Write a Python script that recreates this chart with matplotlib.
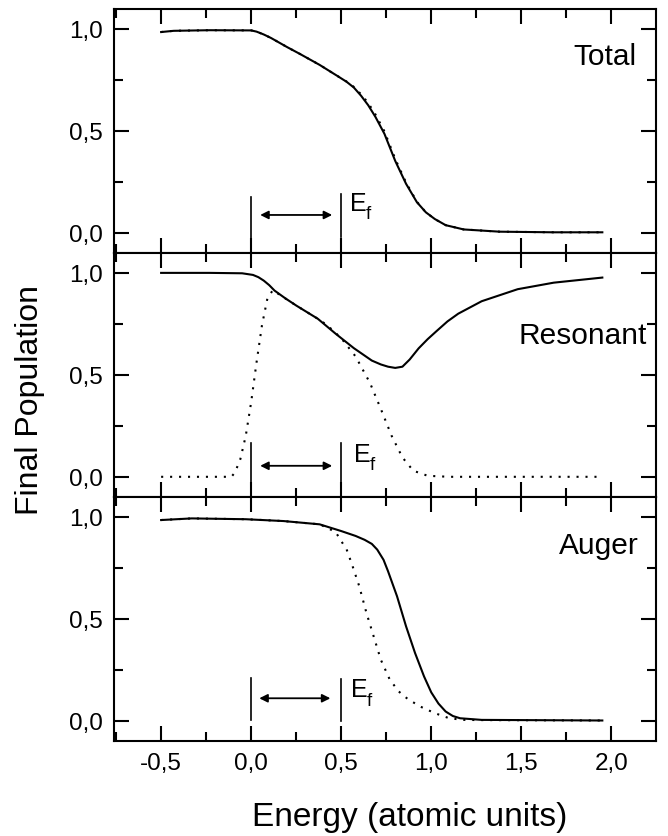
import numpy as np
import matplotlib
matplotlib.use("Agg")
import matplotlib.pyplot as plt
from matplotlib.ticker import MultipleLocator, FuncFormatter

plt.rcParams['font.family'] = ['Liberation Sans', 'DejaVu Sans']

# Total panel
tot_x = [-0.5, -0.43, -0.23, 0.0, 0.03, 0.07, 0.11, 0.15, 0.2, 0.27, 0.38, 0.48, 0.53,
         0.57, 0.61, 0.65, 0.69, 0.74, 0.8, 0.86, 0.92, 0.97, 1.02, 1.08, 1.18, 1.38,
         1.68, 1.95]
tot_solid = [0.984, 0.99, 0.993, 0.992, 0.986, 0.972, 0.955, 0.935, 0.91, 0.877, 0.823,
             0.768, 0.74, 0.712, 0.672, 0.625, 0.568, 0.485, 0.352, 0.24, 0.15, 0.1,
             0.067, 0.037, 0.016, 0.005, 0.002, 0.002]
tot_dot = [0.984, 0.99, 0.993, 0.992, 0.986, 0.972, 0.955, 0.935, 0.91, 0.877, 0.823,
           0.768, 0.741, 0.715, 0.679, 0.636, 0.58, 0.497, 0.362, 0.246, 0.152, 0.1,
           0.067, 0.037, 0.016, 0.005, 0.002, 0.002]

# Resonant panel
res_x = [-0.5, -0.23, -0.05, 0.01, 0.04, 0.07, 0.1, 0.13, 0.19, 0.25, 0.37, 0.47, 0.57,
         0.67, 0.72, 0.76, 0.8, 0.84, 0.88, 0.93, 0.98, 1.03, 1.09, 1.15, 1.28, 1.48,
         1.68, 1.95]
res_solid = [1.0, 1.0, 0.998, 0.99, 0.979, 0.962, 0.94, 0.913, 0.875, 0.84, 0.775,
             0.701, 0.631, 0.57, 0.551, 0.54, 0.534, 0.54, 0.575, 0.63, 0.675, 0.715,
             0.762, 0.8, 0.861, 0.92, 0.952, 0.977]
res_dot_x = [-0.5, -0.11, -0.09, -0.06, -0.03, 0.0, 0.03, 0.06, 0.09, 0.12, 0.25, 0.37,
             0.42, 0.5, 0.58, 0.66, 0.72, 0.78, 0.84, 0.9, 0.98, 1.1, 1.95]
res_dot = [0.0, 0.0, 0.021, 0.087, 0.201, 0.366, 0.562, 0.743, 0.874, 0.915, 0.84, 0.775,
           0.745, 0.68, 0.59, 0.46, 0.333, 0.201, 0.095, 0.03, 0.005, 0.0, 0.0]

# Auger panel
aug_x = [-0.5, -0.33, -0.03, 0.18, 0.38, 0.5, 0.58, 0.63, 0.67, 0.7, 0.735, 0.76, 0.81,
         0.86, 0.91, 0.96, 1.0, 1.04, 1.08, 1.12, 1.16, 1.28, 1.95]
aug_solid = [0.985, 0.993, 0.989, 0.98, 0.964, 0.931, 0.907, 0.888, 0.868, 0.84, 0.79,
             0.734, 0.611, 0.464, 0.333, 0.218, 0.14, 0.085, 0.046, 0.024, 0.013, 0.005,
             0.002]
aug_dot_x = [-0.5, -0.33, -0.03, 0.18, 0.38, 0.42, 0.47, 0.5, 0.53, 0.56, 0.6, 0.64, 0.68,
             0.72, 0.77, 0.82, 0.87, 0.94, 1.02, 1.1, 1.18, 1.28, 1.95]
aug_dot = [0.985, 0.993, 0.989, 0.98, 0.964, 0.948, 0.925, 0.882, 0.841, 0.767, 0.661,
           0.53, 0.415, 0.3, 0.202, 0.144, 0.107, 0.07, 0.038, 0.013, 0.005, 0.004, 0.002]

labels = ["Total", "Resonant", "Auger"]
label_x = [2.14, 2.2, 2.15]
label_y = [0.825, 0.655, 0.825]

# Fermi energy markers per panel
ef_pos = [0.0, 0.5]
ef_lo = [[-0.033, -0.023], [-0.044, -0.04], [0.005, 0.0]]
ef_hi = [[0.177, 0.189], [0.164, 0.164], [0.21, 0.207]]
arrow_x = [[0.05, 0.45], [0.05, 0.45], [0.045, 0.44]]
arrow_y = [0.087, 0.054, 0.111]
eftext_x = [0.548, 0.57, 0.556]
eftext_y = [0.111, 0.079, 0.12]

series = [(tot_x, tot_solid, tot_x, tot_dot),
          (res_x, res_solid, res_dot_x, res_dot),
          (aug_x, aug_solid, aug_dot_x, aug_dot)]

fig = plt.figure(figsize=(6.68, 8.37), dpi=100)
left, right = 114.3 / 668, 656 / 668
top, bottom = 1 - 10 / 837, 1 - 742.3 / 837
h = (top - bottom) / 3

comma = FuncFormatter(lambda v, p: ("%.1f" % v).replace(".", ",").replace("-0,0", "0,0"))

for i in range(3):
    ax = fig.add_axes([left, top - (i + 1) * h, right - left, h])
    sx, sy, dx, dy = series[i]
    ax.plot(sx, sy, color='k', lw=1.5)
    ax.plot(dx, dy, color='k', lw=1.5, linestyle=(0, (1, 3.3)))
    ax.set_xlim(-0.76, 2.248)
    ax.set_ylim(-0.1, 1.097)
    ax.xaxis.set_major_locator(MultipleLocator(0.5))
    ax.xaxis.set_minor_locator(MultipleLocator(0.25))
    ax.yaxis.set_major_locator(MultipleLocator(0.5))
    ax.yaxis.set_minor_locator(MultipleLocator(0.25))
    ax.tick_params(which='both', direction='in', top=True, right=True, width=1.5,
                   labelsize=17.5, pad=8)
    ax.tick_params(which='major', length=11)
    ax.tick_params(which='minor', length=6.5)
    ax.xaxis.set_major_formatter(comma)
    ax.yaxis.set_major_formatter(comma)
    if i < 2:
        ax.tick_params(labelbottom=False)
    for s in ax.spines.values():
        s.set_linewidth(1.5)

    ax.text(label_x[i], label_y[i], labels[i], ha='right', va='baseline', fontsize=21.5)

    for j in range(2):
        ax.plot([ef_pos[j], ef_pos[j]], [ef_lo[i][j], ef_hi[i][j]], color='k', lw=1.2)
    ax.annotate('', xy=(arrow_x[i][1], arrow_y[i]), xytext=(arrow_x[i][0], arrow_y[i]),
                arrowprops=dict(arrowstyle='<|-|>', color='k', lw=1.3, mutation_scale=12,
                                shrinkA=0, shrinkB=0))
    ax.text(eftext_x[i], eftext_y[i], "E", ha='left', va='baseline', fontsize=18)
    ax.text(eftext_x[i] + 0.088, eftext_y[i] - 0.04, "f", ha='left', va='baseline',
            fontsize=13.5)

fig.text(410 / 668, 1 - 826 / 837, "Energy (atomic units)", ha='center', va='baseline',
         fontsize=24)
fig.text(30 / 668, 1 - 400 / 837, "Final Population", ha='center', va='center',
         rotation=90, fontsize=23)

fig.savefig("out.png", dpi=100)
